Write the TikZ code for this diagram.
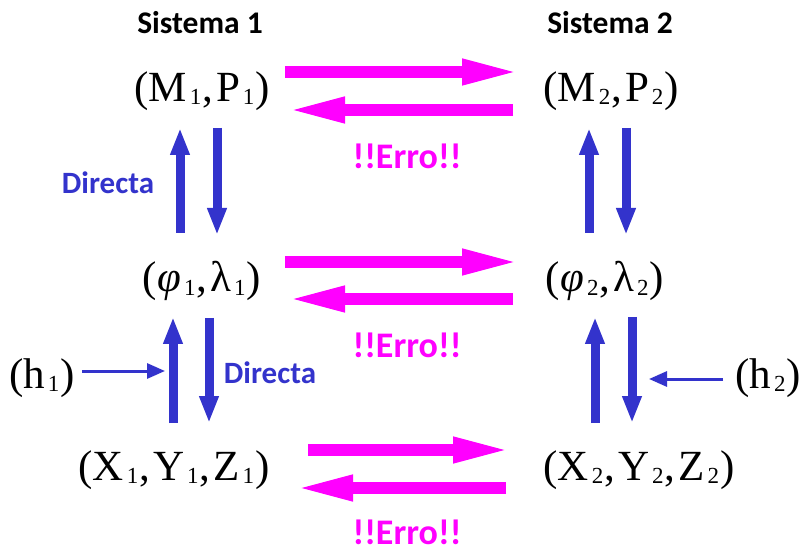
\documentclass[tikz,border=0pt]{standalone}
\usepackage{fontspec}
\setmainfont{Liberation Serif}
\newfontfamily\labfont{Carlito}
\usetikzlibrary{arrows.meta,calc}
\definecolor{ablue}{HTML}{3333CC}
\definecolor{amag}{HTML}{FF00FF}
\newcommand{\sbx}[1]{\kern3pt\raisebox{-3.5pt}{\fontsize{23}{23}\selectfont #1}\kern1pt}
\newcommand{\cm}{,\kern3pt}
\begin{document}
\begin{tikzpicture}[x=1pt,y=-1pt,
 coord/.style={font=\fontsize{43}{43}\selectfont, inner sep=2pt, fill=white},
 titlelab/.style={font=\labfont\bfseries\fontsize{31.5}{31.5}\selectfont},
 bluelab/.style={font=\labfont\bfseries\fontsize{31}{31}\selectfont, text=ablue},
 errlab/.style={font=\labfont\bfseries\fontsize{36}{36}\selectfont, text=amag, inner sep=1pt},
 barrow/.style={draw=ablue, line width=9pt, -{Triangle[width=18pt,length=27pt]}},
 harrow/.style={draw=ablue, line width=3pt, -{Triangle[width=15pt,length=18pt]}},
 marrow/.style={draw=amag, line width=12pt, -{Triangle[width=23pt,length=60pt]}}]
\useasboundingbox[fill=white] (0,0) rectangle (806,553);

\node[titlelab] (s1) at (200,23) {Sistema 1};
\node[titlelab] (s2) at (610,23) {Sistema 2};

\node[coord] (m1) at (202,91) {(M\sbx{1}\cm P\sbx{1})};
\node[coord] (m2) at (611,91) {(M\sbx{2}\cm P\sbx{2})};
\node[coord] (p1) at (202,281) {(\textit{φ}\sbx{1}\cm λ\sbx{1})};
\node[coord] (p2) at (605,281) {(\textit{φ}\sbx{2}\cm λ\sbx{2})};
\node[coord] (x1) at (174,470) {(X\sbx{1}\cm Y\sbx{1}\cm Z\sbx{1})};
\node[coord] (x2) at (639,470) {(X\sbx{2}\cm Y\sbx{2}\cm Z\sbx{2})};
\node[coord] (h1) at (42,378) {(h\sbx{1})};
\node[coord] (h2) at (768,378) {(h\sbx{2})};

\node[bluelab] (d1) at (108,183) {Directa};
\node[bluelab] (d2) at (270,373) {Directa};
\node[errlab] (e1) at (407,156) {!!Erro!!};
\node[errlab] (e2) at (407,345) {!!Erro!!};
\node[errlab] (e3) at (407,532) {!!Erro!!};

% blue vertical arrows
\draw[barrow] ($(p1)+(-22,-48)$) -- ($(m1)+(-22,37)$);
\draw[barrow] ($(m1)+(15,37)$) -- ($(p1)+(15,-46)$);
\draw[barrow] ($(p2)+(-16,-48)$) -- ($(m2)+(-22,37)$);
\draw[barrow] ($(m2)+(15,37)$) -- ($(p2)+(21,-46)$);
\draw[barrow] ($(x1)+(-1,-47)$) -- ($(p1)+(-29,36)$);
\draw[barrow] ($(p1)+(7,37)$) -- ($(x1)+(35,-47)$);
\draw[barrow] ($(x2)+(-44,-47)$) -- ($(p2)+(-10,36)$);
\draw[barrow] ($(p2)+(27,36)$) -- ($(x2)+(-7,-47)$);

% height arrows
\draw[harrow] ($(h1)+(40,-7)$) -- ($(h1)+(123,-7)$);
\draw[harrow] ($(h2)+(-45,1)$) -- ($(h2)+(-119,1)$);

% magenta arrows
\draw[marrow] ($(m1)+(83,-19)$) -- ($(m2)+(-89,-19)$);
\draw[marrow] ($(m2)+(-98,19)$) -- ($(m1)+(83,19)$);
\draw[marrow] ($(p1)+(83,-19)$) -- ($(p2)+(-83,-19)$);
\draw[marrow] ($(p2)+(-92,18)$) -- ($(p1)+(83,18)$);
\draw[marrow] ($(x1)+(134,-20)$) -- ($(x2)+(-126,-20)$);
\draw[marrow] ($(x2)+(-133,18)$) -- ($(x1)+(119,18)$);
\end{tikzpicture}
\end{document}
